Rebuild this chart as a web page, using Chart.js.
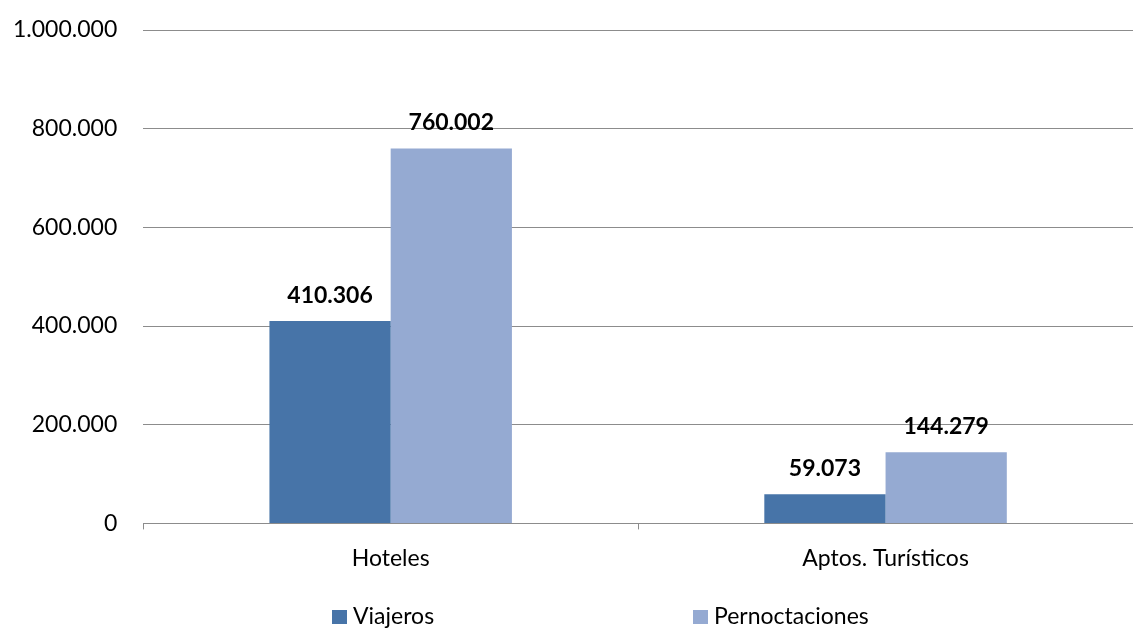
<!DOCTYPE html>
<html>
<head>
<meta charset="utf-8">
<script src="https://cdn.jsdelivr.net/npm/chart.js@4/dist/chart.umd.min.js"></script>
<style>
  html, body { margin: 0; padding: 0; background: #fff; }
</style>
</head>
<body>
<canvas id="grafico" width="1133" height="628"></canvas>
<script>
// datos del grafico
const categorias = ["Hoteles", "Aptos. Turísticos"];
const viajeros = [410306, 59073];
const pernoctaciones = [760002, 144279];
const ticksY = [0, 200000, 400000, 600000, 800000, 1000000];

const fuente = "Lato";
const gris = "#8c8c8c";

// formato 1.000.000
function puntos(n) {
    return n.toString().replace(/\B(?=(\d{3})+(?!\d))/g, ".");
}

// etiquetas encima de cada barra
const etiquetas = {
    id: "etiquetas",
    afterDatasetsDraw(chart) {
        const ctx = chart.ctx;
        ctx.save();
        ctx.font = "bold 23px " + fuente;
        ctx.fillStyle = "#000";
        ctx.textAlign = "center";
        ctx.textBaseline = "bottom";
        chart.data.datasets.forEach((ds, i) => {
            chart.getDatasetMeta(i).data.forEach((bar, j) => {
                ctx.fillText(puntos(ds.data[j]), bar.x, bar.y - 14);
            });
        });
        ctx.restore();
    }
};

// leyenda abajo, estilo excel (columnas anchas)
const leyenda = {
    id: "leyenda",
    afterDraw(chart) {
        const ctx = chart.ctx;
        const inicioX = 332;   // primera columna
        const columna = 361;   // ancho de cada columna
        const yCentro = 617;
        ctx.save();
        ctx.font = "23px " + fuente;
        ctx.textBaseline = "middle";
        ctx.textAlign = "left";
        chart.data.datasets.forEach((ds, i) => {
            const x = inicioX + i * columna;
            ctx.fillStyle = ds.backgroundColor;
            ctx.fillRect(x, yCentro - 7, 15, 14);
            ctx.fillStyle = "#000";
            ctx.fillText(ds.label, x + 21, yCentro);
        });
        ctx.restore();
    }
};

new Chart(document.getElementById("grafico").getContext("2d"), {
    type: "bar",
    data: {
        labels: categorias,
        datasets: [
            { label: "Viajeros", data: viajeros, backgroundColor: "#4774a8" },
            { label: "Pernoctaciones", data: pernoctaciones, backgroundColor: "#95aad2" }
        ]
    },
    options: {
        responsive: false,
        animation: false,
        layout: { padding: { top: 30, left: -13, right: 0, bottom: 41 } },
        datasets: { bar: { categoryPercentage: 0.49, barPercentage: 1 } },
        scales: {
            x: {
                grid: { drawOnChartArea: false, color: gris, tickLength: 6 },
                border: { color: gris, width: 1 },
                ticks: { color: "#000", font: { family: fuente, size: 23 }, padding: 15 }
            },
            y: {
                min: 0,
                max: 1000000,
                afterBuildTicks: s => { s.ticks = ticksY.map(v => ({ value: v })); },
                afterFit: s => { s.paddingTop = 0; },
                grid: { color: gris, drawTicks: false },
                border: { display: false },
                ticks: {
                    color: "#000",
                    font: { family: fuente, size: 23 },
                    padding: 26,
                    callback: v => puntos(v)
                }
            }
        },
        plugins: {
            legend: { display: false },
            tooltip: { enabled: false }
        }
    },
    plugins: [etiquetas, leyenda]
});
</script>
</body>
</html>
